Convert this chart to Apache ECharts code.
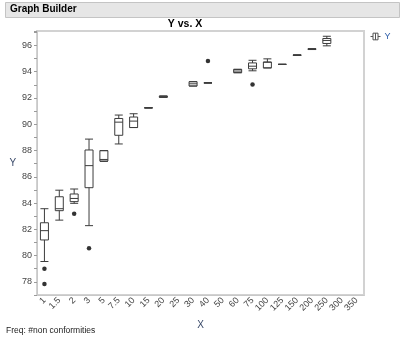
<!DOCTYPE html>
<html>
<head>
<meta charset="utf-8">
<script src="https://cdn.jsdelivr.net/npm/echarts@6/dist/echarts.min.js"></script>
<style>
  html, body { margin: 0; padding: 0; background: #fff; }
  #chart { width: 400px; height: 337px; }
</style>
</head>
<body>
<div id="chart"></div>
<script>
// X groups (ordinal levels)
const categories = ['1', '1.5', '2', '3', '5', '7.5', '10', '15', '20', '25', '30',
  '40', '50', '60', '75', '100', '125', '150', '200', '250', '300', '350'];

// Five-number summary per group: [min, Q1, median, Q3, max]; '-' = no data in group
const boxStats = [
  [79.55, 81.19, 81.90, 82.50, 83.57],
  [82.70, 83.42, 83.57, 84.48, 84.98],
  [83.98, 84.11, 84.35, 84.69, 85.07],
  [82.28, 85.17, 86.85, 88.04, 88.87],
  [87.17, 87.20, 87.32, 87.99, 87.99],
  [88.50, 89.16, 90.16, 90.44, 90.70],
  [89.75, 89.75, 90.24, 90.55, 90.80],
  [91.25, 91.25, 91.25, 91.25, 91.25],
  [92.05, 92.05, 92.10, 92.15, 92.15],
  '-',
  [92.91, 92.91, 93.08, 93.24, 93.24],
  [93.15, 93.15, 93.15, 93.15, 93.15],
  '-',
  [93.92, 93.93, 94.05, 94.18, 94.18],
  [94.07, 94.22, 94.42, 94.67, 94.87],
  [94.29, 94.29, 94.72, 94.74, 94.98],
  [94.56, 94.56, 94.56, 94.56, 94.56],
  [95.24, 95.24, 95.26, 95.28, 95.28],
  [95.69, 95.69, 95.72, 95.75, 95.75],
  [95.97, 96.15, 96.38, 96.53, 96.70],
  '-',
  '-'
];

// Points beyond the whiskers
const outlierGroups = ['1', '1', '2', '3', '40', '75'];
const outlierValues = [79.00, 77.83, 83.19, 80.56, 94.81, 93.02];

// Y axis
const yMin = 77;
const yMax = 97.1;
const yStep = 1;

const chart = echarts.init(document.getElementById('chart'), null, { renderer: 'canvas' });

const textFont = 'Liberation Sans, Arial, sans-serif';
const boxLine = '#3c3c3c';

chart.setOption({
  animation: false,
  textStyle: { fontFamily: textFont },
  graphic: [
    {
      type: 'rect', z: -1,
      shape: { x: 5.5, y: 2.5, width: 394, height: 15 },
      style: { fill: '#e6e6e6', stroke: '#c4c4c4', lineWidth: 1 }
    }
  ],
  title: [
    {
      text: 'Graph Builder', left: 10, top: 4, padding: 0,
      textStyle: { fontSize: 10, fontWeight: 'bold', color: '#000', fontFamily: textFont }
    },
    {
      text: 'Y vs. X', left: 185, top: 19, padding: 0, textAlign: 'center',
      textStyle: { fontSize: 10.5, fontWeight: 'bold', color: '#000', fontFamily: textFont }
    },
    {
      text: 'Freq: #non conformities', left: 6, top: 326, padding: 0,
      textStyle: { fontSize: 8.5, fontWeight: 'normal', color: '#222', fontFamily: textFont }
    }
  ],
  legend: {
    left: 370, top: 32, padding: 0,
    itemWidth: 10, itemHeight: 7, itemGap: 4,
    data: [{
      name: 'Y',
      icon: 'path://M0,5H3M3,1H9V9H3ZM6,1V9M9,5H12',
      itemStyle: { color: '#fff', borderColor: '#555', borderWidth: 1 }
    }],
    textStyle: { fontSize: 9, color: '#2b5ca8', padding: [0, 0, 0, -1] }
  },
  grid: {
    left: 37, right: 36, top: 31, bottom: 42,
    show: true, borderColor: '#d2d2d2', borderWidth: 2, backgroundColor: '#fff'
  },
  xAxis: {
    type: 'category',
    data: categories,
    boundaryGap: true,
    name: 'X', nameLocation: 'middle', nameGap: 24,
    nameTextStyle: { fontSize: 10, color: '#3a4a6a' },
    axisLine: { show: true, lineStyle: { color: '#c8c8c8', width: 1 } },
    axisTick: { show: false },
    axisLabel: { rotate: 45, fontSize: 9, color: '#444', margin: 4, interval: 0 },
    splitLine: { show: false }
  },
  yAxis: {
    type: 'value',
    min: yMin, max: yMax, interval: yStep,
    name: 'Y', nameLocation: 'middle', nameGap: 20, nameRotate: 0,
    nameTextStyle: { fontSize: 10, color: '#3a4a6a' },
    axisLine: { show: true, lineStyle: { color: '#c8c8c8', width: 1 } },
    axisTick: { show: true, length: 3, lineStyle: { color: '#9a9a9a' } },
    axisLabel: {
      fontSize: 9, color: '#444', margin: 5,
      formatter: v => (Math.round(v) % 2 === 0 && Math.abs(v - Math.round(v)) < 1e-6) ? String(Math.round(v)) : ''
    },
    splitLine: { show: false }
  },
  series: [
    {
      name: 'Y',
      type: 'boxplot',
      data: boxStats,
      boxWidth: [8, 8],
      itemStyle: { color: '#fff', borderColor: boxLine, borderWidth: 1 },
      emphasis: { disabled: true }
    },
    {
      name: 'outliers',
      type: 'scatter',
      data: outlierGroups.map((g, i) => [g, outlierValues[i]]),
      symbol: 'circle',
      symbolSize: 4.5,
      itemStyle: { color: '#000' },
      emphasis: { disabled: true }
    }
  ]
});
</script>
</body>
</html>
